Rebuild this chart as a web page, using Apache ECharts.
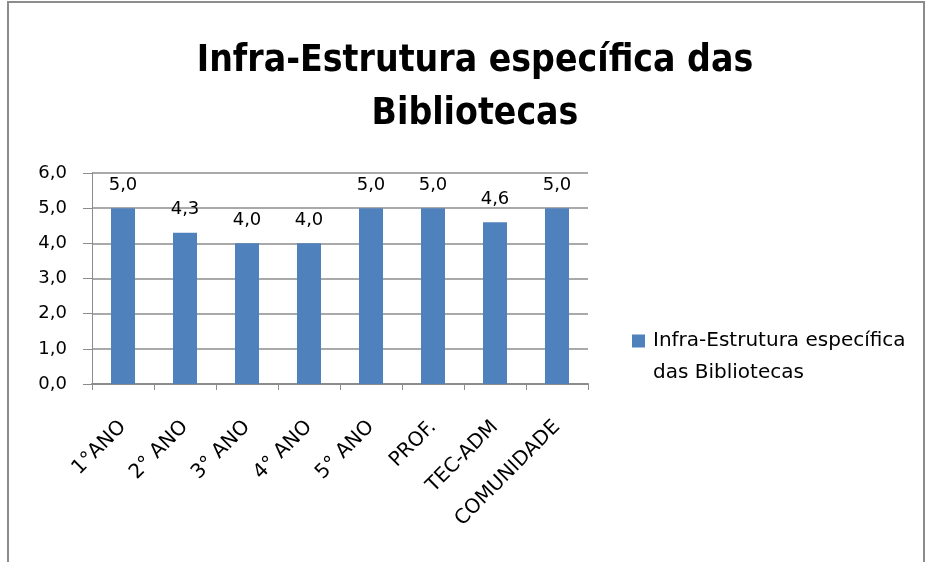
<!DOCTYPE html>
<html>
<head>
<meta charset="utf-8">
<script src="https://cdn.jsdelivr.net/npm/echarts@6/dist/echarts.min.js"></script>
<style>
    html, body {
        margin: 0;
        padding: 0;
        background: #fff;
    }
    .frame {
        position: absolute;
        left: 7px;
        top: 1px;
        width: 918px;
        height: 561px;
        border: 2px solid #8c8c8c;
        border-bottom: none;
        box-sizing: border-box;
    }
    #chart {
        position: absolute;
        left: 0;
        top: 0;
        width: 930px;
        height: 562px;
    }
</style>
</head>
<body>
<div class="frame"></div>
<div id="chart"></div>
<script>
const titleText = 'Infra-Estrutura específica das\nBibliotecas'
const seriesName = 'Infra-Estrutura específica das Bibliotecas'
const categories = ['1°ANO', '2° ANO', '3° ANO', '4° ANO', '5° ANO', 'PROF.', 'TEC-ADM', 'COMUNIDADE']
const values = [5.0, 4.3, 4.0, 4.0, 5.0, 5.0, 4.6, 5.0]

const fmt = (v) => Number(v).toFixed(1).replace('.', ',')

let myChart = echarts.init(document.getElementById('chart'))
let option = {
    animation: false,
    // titulo como texto grafico para poder centrar em x=475
    graphic: [
        {
            type: 'text',
            x: 475,
            y: 35,
            style: {
                text: titleText,
                align: 'center',
                verticalAlign: 'top',
                fontFamily: 'Liberation Sans Narrow, DejaVu Sans Condensed, sans-serif',
                fontSize: 37,
                fontWeight: 'bold',
                fill: '#000',
                lineHeight: 53
            }
        }
    ],
    legend: {
        left: 632,
        top: 293,
        padding: 0,
        itemWidth: 13,
        itemHeight: 13,
        icon: 'rect',
        // linha vazia antes para alinhar o quadrado com a primeira linha
        formatter: () => ' \nInfra-Estrutura específica\ndas Bibliotecas',
        textStyle: {
            fontFamily: 'DejaVu Sans',
            fontSize: 20,
            color: '#000',
            lineHeight: 32,
            padding: [0, 0, 0, 3]
        }
    },
    grid: {
        left: 92,
        right: 342,
        top: 173,
        bottom: 178
    },
    xAxis: {
        type: 'category',
        data: categories,
        axisLine: {
            lineStyle: { color: '#8c8c8c', width: 2 }
        },
        axisTick: {
            show: true,
            length: 6,
            lineStyle: { color: '#8c8c8c', width: 1 }
        },
        axisLabel: {
            rotate: 45,
            margin: 40,
            interval: 0,
            fontFamily: 'DejaVu Sans',
            fontSize: 20,
            color: '#000'
        }
    },
    yAxis: {
        type: 'value',
        min: 0,
        max: 6,
        interval: 1,
        axisLine: {
            show: true,
            lineStyle: { color: '#8c8c8c', width: 1 }
        },
        axisTick: {
            show: true,
            length: 9,
            lineStyle: { color: '#8c8c8c' }
        },
        splitLine: {
            lineStyle: { color: '#8c8c8c', width: 1.5 }
        },
        axisLabel: {
            margin: 25,
            fontFamily: 'DejaVu Sans',
            fontSize: 18,
            color: '#000',
            formatter: (v) => fmt(v)
        }
    },
    series: [
        {
            name: seriesName,
            type: 'bar',
            data: values,
            barWidth: 24,
            itemStyle: {
                color: '#4f81bd'
            },
            label: {
                show: true,
                position: 'top',
                distance: 14,
                fontFamily: 'DejaVu Sans',
                fontSize: 18,
                color: '#000',
                formatter: (p) => fmt(p.value)
            }
        }
    ]
}

option && myChart.setOption(option)
</script>
</body>
</html>
